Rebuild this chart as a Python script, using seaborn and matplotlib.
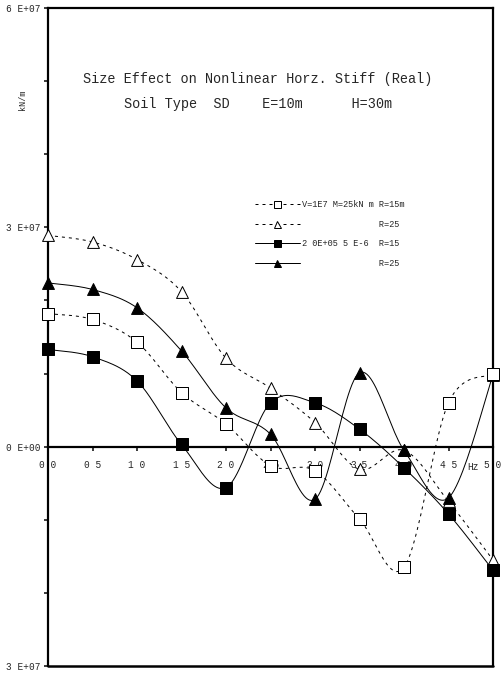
import numpy as np
import pandas as pd
import matplotlib
matplotlib.use("Agg")
import matplotlib.pyplot as plt
from matplotlib.lines import Line2D
import seaborn as sns

# Frequency axis (Hz) and real part of horizontal stiffness (kN/m)
freq = [0.0, 0.5, 1.0, 1.5, 2.0, 2.5, 3.0, 3.5, 4.0, 4.5, 5.0]
lin_r15 = [1.82e7, 1.74e7, 1.43e7, 0.74e7, 0.31e7, -0.26e7, -0.33e7, -0.99e7, -1.65e7, 0.60e7, 0.99e7]
lin_r25 = [2.89e7, 2.80e7, 2.56e7, 2.12e7, 1.21e7, 0.80e7, 0.33e7, -0.31e7, -0.05e7, -0.75e7, -1.55e7]
nl_r15 = [1.33e7, 1.23e7, 0.90e7, 0.03e7, -0.56e7, 0.60e7, 0.60e7, 0.24e7, -0.29e7, -0.92e7, -1.69e7]
nl_r25 = [2.24e7, 2.15e7, 1.90e7, 1.31e7, 0.53e7, 0.17e7, -0.72e7, 1.01e7, -0.05e7, -0.70e7, 0.98e7]

x_ticks = [0.0, 0.5, 1.0, 1.5, 2.0, 2.5, 3.0, 3.5, 4.0, 4.5, 5.0]
x_tick_labels = ["0 0", "0 5", "1 0", "1 5", "2 0", "2.5", "3.0", "3.5", "4 0", "4 5", "5 0"]
y_ticks = [-3e7, 0, 3e7, 6e7]
y_tick_labels = ["3 E+07", "0 E+00", "3 E+07", "6 E+07"]

legend_labels = [
    "V=1E7 M=25kN m R=15m",
    "               R=25",
    "2 0E+05 5 E-6  R=15",
    "               R=25",
]


def smooth(xs, ys, n=24):
    """Catmull-Rom curve through the points (smoothed chart line)."""
    p = np.column_stack([xs, ys]).astype(float)
    p = np.vstack([p[0], p, p[-1]])
    out = []
    t = np.linspace(0, 1, n, endpoint=False)[:, None]
    for i in range(1, len(p) - 2):
        p0, p1, p2, p3 = p[i - 1], p[i], p[i + 1], p[i + 2]
        q = 0.5 * (2 * p1 + (-p0 + p2) * t + (2 * p0 - 5 * p1 + 4 * p2 - p3) * t ** 2
                   + (-p0 + 3 * p1 - 3 * p2 + p3) * t ** 3)
        out.append(q)
    out.append(p[-2][None, :])
    q = np.vstack(out)
    return q[:, 0], q[:, 1]


sns.set_theme(style="white")
plt.rcParams["font.family"] = ["Liberation Mono", "DejaVu Sans Mono"]

fig = plt.figure(figsize=(7, 9.375), dpi=72)
ax = fig.add_axes([48 / 504, 9 / 675, 445 / 504, 658 / 675])

dash = (0, (3, 4))
series = [
    (lin_r25, dash, "^", "white", 3),
    (nl_r25, "-", "^", "black", 4),
    (nl_r15, "-", "s", "black", 5),
    (lin_r15, dash, "s", "white", 6),
]

for vals, ls, mk, fc, z in series:
    sx, sy = smooth(freq, vals)
    curve = pd.DataFrame({"f": sx, "k": sy})
    sns.lineplot(data=curve, x="f", y="k", ax=ax, color="black", lw=1.0,
                 linestyle=ls, estimator=None, sort=False, zorder=z)
    pts = pd.DataFrame({"f": freq, "k": vals})
    sns.scatterplot(data=pts, x="f", y="k", ax=ax, marker=mk, s=140,
                    facecolor=fc, edgecolor="black", linewidth=1.0,
                    zorder=z + 4, clip_on=False)

ax.set_xlim(0, 5.0)
ax.set_ylim(-3e7, 6e7)
ax.set_xlabel("")
ax.set_ylabel("")

# frame and zero axis
for s in ["left", "right", "top"]:
    ax.spines[s].set_color("black")
    ax.spines[s].set_linewidth(2.2)
ax.spines["bottom"].set_position(("data", 0))
ax.spines["bottom"].set_color("black")
ax.spines["bottom"].set_linewidth(2.2)
ax.axhline(-3e7, color="black", lw=2.5, clip_on=False)

ax.set_xticks(x_ticks)
ax.set_xticklabels(x_tick_labels)
ax.tick_params(axis="x", direction="out", length=4, width=1.5, color="black",
               pad=9, labelsize=9.5, bottom=True)
ax.set_yticks(y_ticks)
ax.set_yticklabels(y_tick_labels)
ax.set_yticks(np.arange(-3e7, 6.01e7, 1e7), minor=True)
ax.tick_params(axis="y", which="both", direction="out", length=4, width=1.5,
               color="black", pad=3, labelsize=9.5, left=True)

ax.annotate("Hz", (4.77, 0), xytext=(0, -20), textcoords="offset points",
            fontsize=9.5, ha="center", va="center")

# titles
fig.text(258 / 504, 1 - 79 / 675,
         "Size Effect on Nonlinear Horz. Stiff (Real)",
         ha="center", va="center", fontsize=13.5)
fig.text(258 / 504, 1 - 104 / 675,
         "Soil Type  SD    E=10m      H=30m",
         ha="center", va="center", fontsize=13.5)
fig.text(22 / 504, 1 - 100 / 675, "kN/m", rotation=90, ha="center",
         va="center", fontsize=8.5)

handles = [
    Line2D([], [], color="black", lw=1, linestyle=dash, marker="s",
           markerfacecolor="white", markeredgecolor="black", markersize=7),
    Line2D([], [], color="black", lw=1, linestyle=dash, marker="^",
           markerfacecolor="white", markeredgecolor="black", markersize=7),
    Line2D([], [], color="black", lw=1, linestyle="-", marker="s",
           markerfacecolor="black", markeredgecolor="black", markersize=7),
    Line2D([], [], color="black", lw=1, linestyle="-", marker="^",
           markerfacecolor="black", markeredgecolor="black", markersize=7),
]
fig.legend(handles, legend_labels, loc="upper left",
           bbox_to_anchor=(255 / 504, 1 - 200 / 675),
           bbox_transform=fig.transFigure, frameon=False, fontsize=8.6,
           handlelength=5.2, handletextpad=0.3, labelspacing=1.25,
           borderpad=0, borderaxespad=0)

fig.savefig("out.png", dpi=72)
